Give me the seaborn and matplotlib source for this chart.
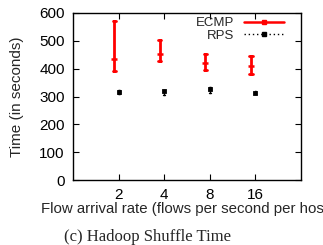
import numpy as np
import pandas as pd
import matplotlib
matplotlib.use("Agg")
import matplotlib.pyplot as plt
import matplotlib.transforms as mtransforms
from matplotlib.lines import Line2D
import seaborn as sns

rates = ["2", "4", "8", "16"]
ecmp_mid = [433, 452, 422, 411]
ecmp_low = [390, 427, 397, 380]
ecmp_high = [573, 503, 452, 445]
rps_mid = [315, 321, 327, 312]
rps_low = [308, 305, 313, 308]
rps_high = [322, 325, 333, 320]
yticks = [0, 100, 200, 300, 400, 500, 600]

sns.set_theme(style="ticks")
plt.rcParams['font.family'] = ['Liberation Sans', 'DejaVu Sans']


def long(mid, low, high):
    return pd.DataFrame({"rate": rates * 3,
                         "time": list(low) + list(mid) + list(high)})


fig = plt.figure(figsize=(3.23, 2.45), dpi=100)
ax = fig.add_axes([0.226, 0.265, 0.706, 0.682])

n0 = len(ax.lines)
c0 = len(ax.collections)
sns.pointplot(data=long(ecmp_mid, ecmp_low, ecmp_high), x="rate", y="time",
              order=rates, estimator="median", errorbar=("pi", 100),
              color="red", linestyle="none", marker="_", markersize=4,
              markeredgewidth=1.8, capsize=0.07,
              err_kws={"linewidth": 2.0}, ax=ax)
shift = mtransforms.offset_copy(ax.transData, fig=fig, x=-4.5, y=0, units='dots')
for ln in ax.lines[n0:]:
    ln.set_transform(shift)
for c in ax.collections[c0:]:
    c.set_offset_transform(shift)

sns.pointplot(data=long(rps_mid, rps_low, rps_high), x="rate", y="time",
              order=rates, estimator="median", errorbar=("pi", 100),
              color="black", linestyle="none", marker="s", markersize=2.0,
              capsize=0.04, err_kws={"linewidth": 1.0}, ax=ax)

ax.set_xlim(-1, 4)
ax.set_ylim(0, 600)
ax.set_yticks(yticks)
ax.set_xlabel("Flow arrival rate (flows per second per host)", fontsize=10.8, labelpad=0)
ax.set_ylabel("Time (in seconds)", fontsize=11, labelpad=11)
ax.tick_params(direction='in', top=True, right=True, length=4, width=0.8,
               labelsize=11, colors='black', pad=6)
for s in ax.spines.values():
    s.set_visible(True)
    s.set_color('black')
    s.set_linewidth(1.0)

handles = [
    Line2D([], [], color='red', lw=1.8, marker='s', markersize=2.5),
    Line2D([], [], color='black', lw=1.0, linestyle=(0, (1, 2)), marker='s', markersize=3),
]
leg = ax.legend(handles, ["ECMP", "RPS"], loc='upper right', bbox_to_anchor=(0.925, 0.975),
                frameon=False, markerfirst=False, fontsize=9.5, handlelength=3.0,
                handletextpad=0.75, labelspacing=0.0, borderpad=0.0, borderaxespad=0.0)
leg.set_zorder(5)

fig.text(147 / 323, 1 - 237 / 245, "(c) Hadoop Shuffle Time", ha='center', va='center',
         fontsize=12, family=['Liberation Serif', 'DejaVu Serif'])

fig.savefig("out.png", dpi=100)
